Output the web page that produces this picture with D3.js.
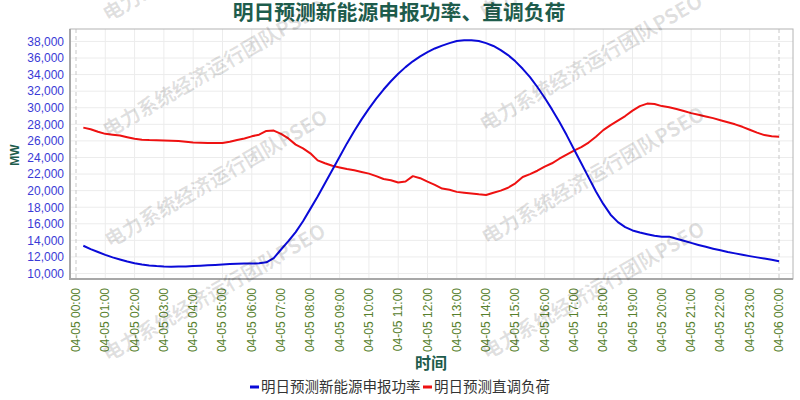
<!DOCTYPE html>
<html><head><meta charset="utf-8">
<script src="https://cdn.jsdelivr.net/npm/d3@7"></script>
<style>body{margin:0;background:#fff}svg{display:block}</style>
</head><body>
<svg id="c" width="800" height="400"></svg>
<script>
const title = "明日预测新能源申报功率、直调负荷";
const yLabel = "MW";
const xLabel = "时间";
const seriesNames = ["明日预测新能源申报功率", "明日预测直调负荷"];
const xTickLabels = ["04-05 00:00","04-05 01:00","04-05 02:00","04-05 03:00","04-05 04:00","04-05 05:00","04-05 06:00","04-05 07:00","04-05 08:00","04-05 09:00","04-05 10:00","04-05 11:00","04-05 12:00","04-05 13:00","04-05 14:00","04-05 15:00","04-05 16:00","04-05 17:00","04-05 18:00","04-05 19:00","04-05 20:00","04-05 21:00","04-05 22:00","04-05 23:00","04-06 00:00"];
const yTicks = [10000,12000,14000,16000,18000,20000,22000,24000,26000,28000,30000,32000,34000,36000,38000];
const watermark = "电力系统经济运行团队PSEO";
// 15-minute points, starting 00:15
const newEnergy = [13350,12950,12600,12250,11950,11700,11450,11250,11100,10980,10900,10850,10830,10840,10860,10900,10940,10990,11040,11090,11140,11180,11200,11210,11230,11350,11850,12900,13900,15000,16300,17800,19300,20900,22500,24100,25700,27200,28600,29900,31100,32200,33200,34100,34900,35600,36200,36700,37150,37500,37800,38050,38150,38150,38050,37800,37450,36950,36350,35600,34700,33700,32500,31200,29800,28300,26700,25000,23300,21600,19900,18400,17100,16200,15600,15200,14950,14750,14550,14450,14450,14200,13950,13700,13450,13220,13000,12800,12600,12430,12270,12100,11950,11800,11650,11480];
const directLoad = [27600,27400,27100,26850,26750,26650,26450,26250,26150,26100,26080,26050,26030,26000,25900,25800,25780,25760,25750,25760,25900,26100,26300,26550,26750,27200,27250,26850,26300,25550,25100,24500,23650,23300,23000,22800,22600,22450,22250,22050,21750,21400,21250,20980,21100,21750,21500,21080,20700,20250,20100,19850,19750,19650,19550,19470,19750,20000,20350,20880,21650,22000,22400,22900,23300,23850,24350,24820,25250,25800,26500,27300,27900,28450,29000,29650,30200,30500,30450,30200,30050,29850,29600,29350,29150,28950,28750,28500,28250,28000,27700,27350,27000,26700,26550,26500];

const svg = d3.select("#c");
const L = 70, R = 793, T = 29, B = 279;
const x = d3.scaleLinear().domain([0, 24]).range([76, 779]);
const y = d3.scaleLinear().domain([9340, 39500]).range([B, T]);

// grid
const g = svg.append("g");
g.selectAll(".hg").data(yTicks).join("line")
  .attr("x1", L).attr("x2", R).attr("y1", d => y(d)).attr("y2", d => y(d))
  .attr("stroke", "#ececec").attr("stroke-width", 1);
g.selectAll(".vg").data(d3.range(1, 24)).join("line")
  .attr("y1", T).attr("y2", B).attr("x1", d => x(d)).attr("x2", d => x(d))
  .attr("stroke", "#ececec").attr("stroke-width", 1);
g.selectAll(".dg").data([0, 24]).join("line")
  .attr("y1", T).attr("y2", B).attr("x1", d => x(d)).attr("x2", d => x(d))
  .attr("stroke", "#c8c8c8").attr("stroke-width", 1).attr("stroke-dasharray", "4,3");

// frame
svg.append("rect").attr("x", L).attr("y", T).attr("width", R - L).attr("height", B - T)
  .attr("fill", "none").attr("stroke", "#b4b4b4").attr("stroke-width", 1);
svg.append("line").attr("x1", L).attr("x2", L).attr("y1", T).attr("y2", B + 1).attr("stroke", "#a8a8a8").attr("stroke-width", 2);
svg.append("line").attr("x1", L - 1).attr("x2", R).attr("y1", B).attr("y2", B).attr("stroke", "#a8a8a8").attr("stroke-width", 2);

// y axis labels
svg.append("g").selectAll("text").data(yTicks).join("text")
  .attr("x", 64).attr("y", d => y(d)).attr("dy", "0.36em")
  .attr("text-anchor", "end").attr("fill", "#3a3ad6")
  .attr("font-family", "'Liberation Sans', Arial, sans-serif").attr("font-size", 12)
  .text(d3.format(","));

// x axis labels
svg.append("g").selectAll("text").data(xTickLabels).join("text")
  .attr("transform", (d, i) => `translate(${x(i) + 4},288) rotate(-90)`)
  .attr("text-anchor", "end").attr("fill", "#56802c")
  .attr("font-family", "'Liberation Sans', Arial, sans-serif").attr("font-size", 12)
  .text(d => d);

// lines
const pts = arr => arr.map((v, i) => [(i + 1) / 4, v]);
const line = d3.line().x(d => x(d[0])).y(d => y(d[1])).curve(d3.curveLinear);
svg.append("path").datum(pts(directLoad)).attr("d", line)
  .attr("fill", "none").attr("stroke", "#ee1111").attr("stroke-width", 2).attr("stroke-linejoin", "round");
svg.append("path").datum(pts(newEnergy)).attr("d", line)
  .attr("fill", "none").attr("stroke", "#0a0ad8").attr("stroke-width", 2).attr("stroke-linejoin", "round");

// title and axis titles
const cjk = "'Noto Sans CJK SC', 'Noto Sans', sans-serif";
svg.append("text").attr("x", 399).attr("y", 20).attr("text-anchor", "middle")
  .attr("font-family", cjk).attr("font-weight", "bold").attr("font-size", 20.8)
  .attr("fill", "#1e5c4c").text(title);
svg.append("text").attr("transform", "translate(19,155) rotate(-90)").attr("text-anchor", "middle")
  .attr("font-family", "'Liberation Sans', Arial, sans-serif").attr("font-weight", "bold").attr("font-size", 12)
  .attr("fill", "#1e5c4c").text(yLabel);
svg.append("text").attr("x", 431).attr("y", 369).attr("text-anchor", "middle")
  .attr("font-family", cjk).attr("font-weight", "bold").attr("font-size", 16)
  .attr("fill", "#1e5c4c").text(xLabel);

// legend
const colors = ["#0a0ad8", "#ee1111"];
const legX = [250, 423];
const lg = svg.append("g");
seriesNames.forEach((n, i) => {
  lg.append("rect").attr("x", legX[i]).attr("y", 385.5).attr("width", 9).attr("height", 3).attr("fill", colors[i]);
  lg.append("text").attr("x", legX[i] + 11).attr("y", 392).attr("font-family", cjk)
    .attr("font-size", 14.5).attr("fill", "#333").text(n);
});

// watermark
const wm = [[108,22],[108,138],[110,248],[108,362],[485,20],[485,132],[487,245],[487,360]];
svg.append("g").selectAll("text").data(wm).join("text")
  .attr("transform", d => `translate(${d[0]},${d[1]}) rotate(-30)`)
  .attr("font-family", cjk).attr("font-weight", "bold").attr("font-size", 20)
  .attr("fill", "#000").attr("fill-opacity", 0.12).text(watermark);
</script>
</body></html>
